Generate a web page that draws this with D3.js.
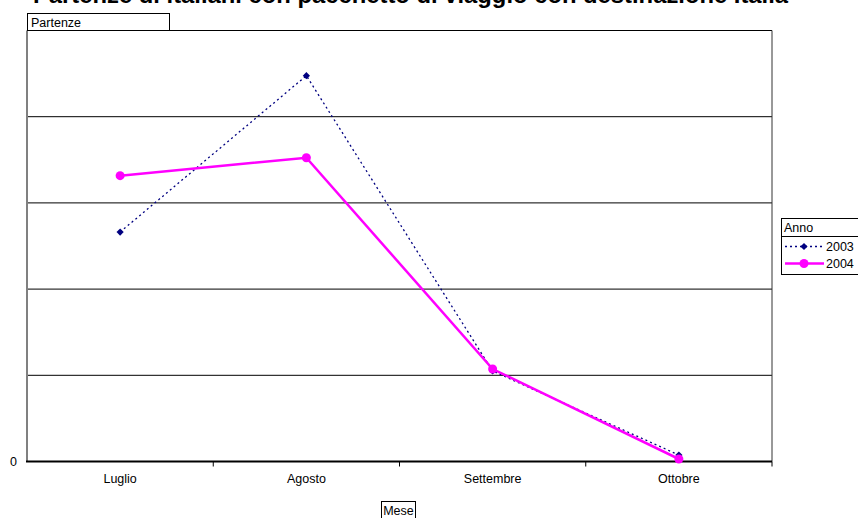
<!DOCTYPE html>
<html>
<head>
<meta charset="utf-8">
<script src="https://cdn.jsdelivr.net/npm/d3@7"></script>
<style>
html,body{margin:0;padding:0;background:#fff;}
svg{display:block;font-family:Arial,"Liberation Sans",sans-serif;}
</style>
</head>
<body>
<svg id="chart" width="858" height="518"></svg>
<script>
// Data
const title = "Partenze di italiani con pacchetto di viaggio con destinazione Italia";
const months = ["Luglio", "Agosto", "Settembre", "Ottobre"];
const values2003 = [26620, 44760, 10500, 750];
const values2004 = [33160, 35240, 10730, 290];
const seriesNames = ["2003", "2004"];
const yTicks = [0, 10000, 20000, 30000, 40000, 50000];

(function () {
const svg = d3.select("#chart");
const pLeft = 27, pRight = 772, pTop = 30.5, pBottom = 461.5;
const fs = 12.5;

const x = d3.scaleBand().domain(months).range([pLeft, pRight]);
const y = d3.scaleLinear().domain([0, 50000]).range([pBottom, pTop]);

// Title (cropped at top in reference)
svg.append("text").attr("x", 0).attr("y", 3)
  .attr("font-size", 23.8).attr("font-weight", "bold").text("-");
svg.append("text").attr("x", 33).attr("y", 3)
  .attr("font-size", 23.8).attr("font-weight", "bold").text(title);

// Gridlines
svg.append("g").selectAll("line").data(yTicks.filter(d => d > 0 && d < 50000)).join("line")
  .attr("x1", pLeft).attr("x2", pRight)
  .attr("y1", d => y(d)).attr("y2", d => y(d))
  .attr("stroke", "#000").attr("stroke-width", 1);

// Plot frame
svg.append("line").attr("x1", pLeft).attr("x2", pRight).attr("y1", y(50000)).attr("y2", y(50000))
  .attr("stroke", "#000").attr("stroke-width", 1);
svg.append("line").attr("x1", pRight).attr("x2", pRight).attr("y1", y(50000)).attr("y2", pBottom)
  .attr("stroke", "#333").attr("stroke-width", 1);
svg.append("line").attr("x1", pLeft).attr("x2", pLeft).attr("y1", y(50000)).attr("y2", pBottom)
  .attr("stroke", "#808080").attr("stroke-width", 2);

// X axis
const xAxis = d3.axisBottom(x).tickSize(0).tickPadding(13);
const gx = svg.append("g").attr("transform", `translate(0,${pBottom})`).call(xAxis);
gx.select(".domain").remove();
gx.selectAll("text").attr("font-size", fs).attr("font-family", "Arial, 'Liberation Sans', sans-serif").attr("fill", "#000");
const bounds = months.map(m => x(m) + x.bandwidth());
svg.append("g").selectAll("line").data(bounds).join("line")
  .attr("x1", d => d).attr("x2", d => d).attr("y1", pBottom).attr("y2", pBottom + 5)
  .attr("stroke", "#000").attr("stroke-width", 1);
svg.append("line").attr("x1", pLeft - 1).attr("x2", pRight).attr("y1", pBottom).attr("y2", pBottom)
  .attr("stroke", "#000").attr("stroke-width", 2);

// Y axis: only 0 shown
const yAxis = d3.axisLeft(y).tickValues([0]).tickSize(0).tickPadding(10).tickFormat(d3.format("d"));
const gy = svg.append("g").attr("transform", `translate(${pLeft},0)`).call(yAxis);
gy.select(".domain").remove();
gy.selectAll("text").attr("font-size", fs).attr("font-family", "Arial, 'Liberation Sans', sans-serif").attr("fill", "#000");

// "Partenze" field box
svg.append("rect").attr("x", 27.5).attr("y", 13.5).attr("width", 142).attr("height", 17)
  .attr("fill", "#fff").attr("stroke", "#000").attr("stroke-width", 1);
svg.append("text").attr("x", 31).attr("y", 26.5).attr("font-size", fs).text("Partenze");

// "Mese" field box
svg.append("rect").attr("x", 381.5).attr("y", 501.5).attr("width", 34).attr("height", 17)
  .attr("fill", "#fff").attr("stroke", "#000").attr("stroke-width", 1);
svg.append("text").attr("x", 398.5).attr("y", 514.5).attr("font-size", fs)
  .attr("text-anchor", "middle").text("Mese");

// Lines
const cx = m => x(m) + x.bandwidth() / 2;
const line = d3.line().x(d => cx(d.m)).y(d => y(d.v));
const d2003 = months.map((m, i) => ({m, v: values2003[i]}));
const d2004 = months.map((m, i) => ({m, v: values2004[i]}));

svg.append("path").datum(d2003).attr("d", line)
  .attr("fill", "none").attr("stroke", "#000080").attr("stroke-width", 1.3)
  .attr("stroke-dasharray", "2,3");
const diamond = d3.symbol().type(d3.symbolSquare).size(26);
svg.append("g").selectAll("path").data(d2003).join("path")
  .attr("d", diamond).attr("transform", d => `translate(${cx(d.m)},${y(d.v)}) rotate(45)`)
  .attr("fill", "#000080");

svg.append("path").datum(d2004).attr("d", line)
  .attr("fill", "none").attr("stroke", "#FF00FF").attr("stroke-width", 2.5);
svg.append("g").selectAll("circle").data(d2004).join("circle")
  .attr("cx", d => cx(d.m)).attr("cy", d => y(d.v)).attr("r", 4.5)
  .attr("fill", "#FF00FF");

// Legend
const lg = svg.append("g");
lg.append("rect").attr("x", 781.5).attr("y", 218.5).attr("width", 80).attr("height", 56)
  .attr("fill", "#fff").attr("stroke", "#000").attr("stroke-width", 1);
lg.append("line").attr("x1", 781.5).attr("x2", 858).attr("y1", 236.5).attr("y2", 236.5)
  .attr("stroke", "#000").attr("stroke-width", 1);
lg.append("text").attr("x", 784).attr("y", 232).attr("font-size", fs).text("Anno");
const rows = [
  {name: seriesNames[0], yy: 246.5, color: "#000080", dash: "2,3", w: 1.3, mk: "d"},
  {name: seriesNames[1], yy: 263.5, color: "#FF00FF", dash: null, w: 2.5, mk: "c"}
];
rows.forEach(r => {
  lg.append("line").attr("x1", 785).attr("x2", 824).attr("y1", r.yy).attr("y2", r.yy)
    .attr("stroke", r.color).attr("stroke-width", r.w).attr("stroke-dasharray", r.dash);
  if (r.mk === "d") {
    lg.append("path").attr("d", diamond).attr("transform", `translate(804,${r.yy}) rotate(45)`).attr("fill", r.color);
  } else {
    lg.append("circle").attr("cx", 804).attr("cy", r.yy).attr("r", 4.5).attr("fill", r.color);
  }
  lg.append("text").attr("x", 826).attr("y", r.yy + 4.5).attr("font-size", fs).text(r.name);
});
})();
</script>
</body>
</html>
